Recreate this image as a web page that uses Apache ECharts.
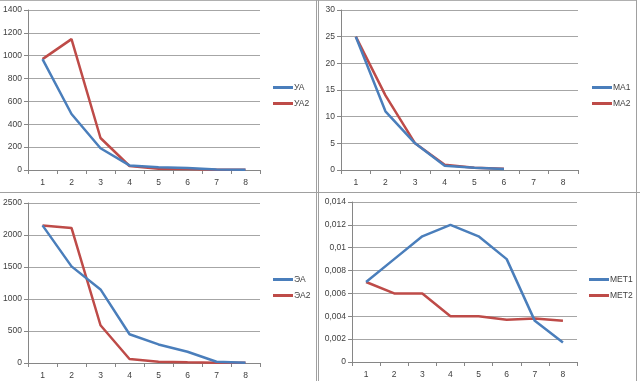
<!DOCTYPE html>
<html><head><meta charset="utf-8">
<script src="https://cdn.jsdelivr.net/npm/echarts@6/dist/echarts.min.js"></script>
<style>html,body{margin:0;padding:0;background:#fff}#c{width:640px;height:381px}</style>
</head><body><div id="c"></div>
<script>
const categories = ['1','2','3','4','5','6','7','8'];
const UA  = [970, 490, 190, 40, 25, 18, 4, 2];
const UA2 = [970, 1145, 280, 35, 10, 8, 3, 2];
const MA1 = [25, 11, 5, 0.8, 0.4, 0.2, null, null];
const MA2 = [25, 14, 5, 1, 0.4, 0.25, null, null];
const EA  = [2150, 1510, 1150, 450, 290, 175, 20, 5];
const EA2 = [2150, 2110, 590, 62, 20, 10, 5, 3];
const MET1 = [0.007, 0.009, 0.011, 0.012, 0.011, 0.009, 0.0036, 0.0017];
const MET2 = [0.007, 0.006, 0.006, 0.004, 0.004, 0.0037, 0.0038, 0.0036];
const yTicks = [
  {max:1400, interval:200},
  {max:30, interval:5},
  {max:2500, interval:500},
  {max:0.014, interval:0.002}
];

const BLUE = '#4a7ebb', RED = '#be4b48';
const FONT = 'Liberation Sans';
const grids = [
  {left:28, top:10, width:232, height:160},
  {left:341, top:10, width:237, height:160},
  {left:28, top:203, width:232, height:160},
  {left:352, top:202, width:225, height:160}
];
const names = [['УА','УА2'],['МА1','МА2'],['ЭА','ЭА2'],['МЕТ1','МЕТ2']];
const data = [[UA,UA2],[MA1,MA2],[EA,EA2],[MET1,MET2]];
const legendPos = [{left:273, top:83},{left:592, top:83},{left:273, top:275},{left:589, top:275}];

const fmt = v => Number(v.toFixed(4)).toString().replace('.', ',');

const option = {
  animation:false,
  backgroundColor:'#fff',
  grid: grids,
  xAxis: grids.map((g,i)=>({
    type:'category', gridIndex:i, data:categories, boundaryGap:true,
    axisLine:{lineStyle:{color:'#868686', width:1}},
    axisTick:{show:true, length:4, lineStyle:{color:'#868686'}},
    axisLabel:{color:'#404040', fontSize:8.5, fontFamily:FONT, margin:8}
  })),
  yAxis: grids.map((g,i)=>({
    type:'value', gridIndex:i, min:0, max:yTicks[i].max, interval:yTicks[i].interval,
    axisLine:{show:true, lineStyle:{color:'#868686', width:1}},
    axisTick:{show:true, length:4, lineStyle:{color:'#868686'}},
    splitLine:{lineStyle:{color:'#a6a6a6', width:1}},
    axisLabel:{color:'#404040', fontSize:8.5, fontFamily:FONT, margin:6, formatter:fmt}
  })),
  legend: grids.map((g,i)=>({
    orient:'vertical', left:legendPos[i].left, top:legendPos[i].top,
    data:names[i], icon:'rect', itemWidth:20, itemHeight:3, itemGap:7,
    textStyle:{color:'#404040', fontSize:8.5, fontFamily:FONT, padding:[0,0,0,-4]},
    padding:0
  })),
  series: [],
  graphic: [
    {type:'line', shape:{x1:0,y1:0.5,x2:637,y2:0.5}, style:{stroke:'#b0b0b0', lineWidth:1}},
    {type:'line', shape:{x1:316.5,y1:0,x2:316.5,y2:381}, style:{stroke:'#a0a0a0', lineWidth:1}},
    {type:'line', shape:{x1:318.5,y1:0,x2:318.5,y2:381}, style:{stroke:'#a0a0a0', lineWidth:1}},
    {type:'line', shape:{x1:0,y1:192.5,x2:640,y2:192.5}, style:{stroke:'#a0a0a0', lineWidth:1}},
    {type:'line', shape:{x1:636.5,y1:0,x2:636.5,y2:381}, style:{stroke:'#a0a0a0', lineWidth:1}}
  ]
};
for (let i=0;i<4;i++){
  for (let j=0;j<2;j++){
    option.series.push({
      type:'line', name:names[i][j], xAxisIndex:i, yAxisIndex:i,
      data:data[i][j], showSymbol:false, symbol:'none',
      lineStyle:{color:j?RED:BLUE, width:2.5}, itemStyle:{color:j?RED:BLUE},
      z: j?2:3
    });
  }
}
const chart = echarts.init(document.getElementById('c'), null, {renderer:'canvas'});
chart.setOption(option);
</script></body></html>
